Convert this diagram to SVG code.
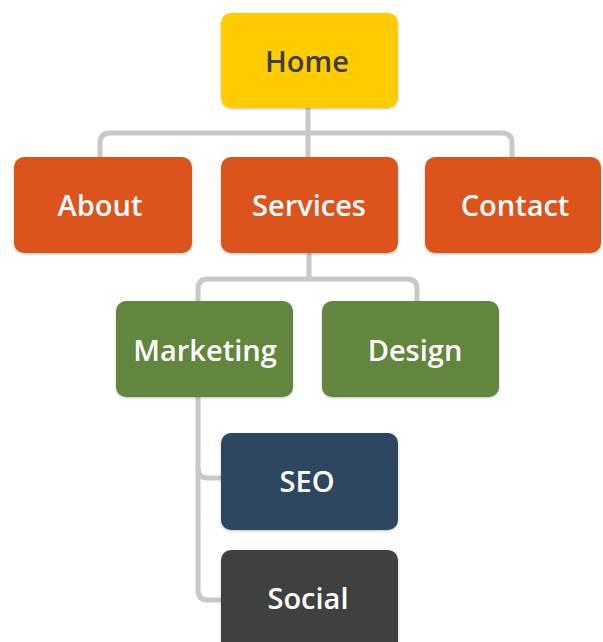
<svg xmlns="http://www.w3.org/2000/svg" width="603" height="642" viewBox="0 0 603 642">
<style>
.conn{fill:none;stroke:#c8c8c8;stroke-width:5;stroke-linecap:butt;stroke-linejoin:round}
.box{filter:url(#sh)}
.lbl{font-family:"Open Sans","Liberation Sans",sans-serif;font-weight:600;font-size:29px;text-anchor:middle;fill:#ffffff}
.home{fill:#ffcc00}.orange{fill:#dc531d}.green{fill:#62863e}.navy{fill:#2e4760}.dark{fill:#404040}
</style>
<defs>
<filter id="sh" x="-10%" y="-10%" width="120%" height="130%">
<feDropShadow dx="0" dy="1" stdDeviation="1.2" flood-color="#000" flood-opacity="0.25"/>
</filter>
</defs>
<rect width="603" height="642" fill="#ffffff"/>
<g id="connectors">
<path class="conn" d="M308 108 V157"/>
<path class="conn" d="M100 157 V143 Q100 133 110 133 H502 Q512 133 512 143 V157"/>
<path class="conn" d="M309 253 V279"/>
<path class="conn" d="M198 301 V289 Q198 279 208 279 H407 Q417 279 417 289 V301"/>
<path class="conn" d="M198 397 V590 Q198 600 208 600 H221"/>
<path class="conn" d="M198 468 Q198 478 208 478 H221"/>
</g>
<g id="home"><rect class="box home" x="221" y="13" width="177" height="95" rx="10"/><text class="lbl" x="307" y="72" style="fill:#3c3c3c">Home</text></g>
<g id="about"><rect class="box orange" x="14" y="157" width="178" height="96" rx="10"/><text class="lbl" x="100" y="216">About</text></g>
<g id="services"><rect class="box orange" x="221" y="157" width="177" height="96" rx="10"/><text class="lbl" x="309" y="216">Services</text></g>
<g id="contact"><rect class="box orange" x="425" y="157" width="176" height="96" rx="10"/><text class="lbl" x="515" y="216">Contact</text></g>
<g id="marketing"><rect class="box green" x="116" y="301" width="177" height="96" rx="10"/><text class="lbl" x="205" y="361">Marketing</text></g>
<g id="design"><rect class="box green" x="322" y="301" width="177" height="96" rx="10"/><text class="lbl" x="415" y="361">Design</text></g>
<g id="seo"><rect class="box navy" x="221" y="433" width="177" height="97" rx="10"/><text class="lbl" x="307" y="492">SEO</text></g>
<g id="social"><rect class="box dark" x="221" y="550" width="177" height="110" rx="10"/><text class="lbl" x="308" y="609">Social</text></g>
</svg>
